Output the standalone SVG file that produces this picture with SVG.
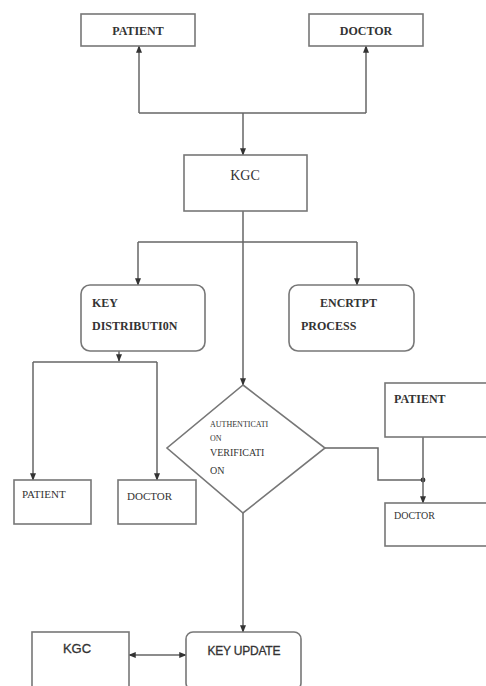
<svg xmlns="http://www.w3.org/2000/svg" width="486" height="686" viewBox="0 0 486 686">
<defs>
<marker id="ah" viewBox="0 0 10 10" refX="9" refY="5" markerWidth="5" markerHeight="5" orient="auto-start-reverse">
<path d="M0,1 L10,5 L0,9 z" fill="#333"/>
</marker>
<marker id="dot" viewBox="0 0 10 10" refX="5" refY="5" markerWidth="4" markerHeight="4">
<circle cx="5" cy="5" r="4" fill="#333"/>
</marker>
</defs>
<style>
.box{fill:#fff;stroke:#777;stroke-width:1.6}
.ln{fill:none;stroke:#666;stroke-width:1.5}
.t{font-family:"Liberation Serif",serif;fill:#333}
.b{font-weight:bold;font-size:12px}
.s{font-size:11px}
.xs{font-size:8px}
.k{font-size:14px}
.sans{font-family:"Liberation Sans",sans-serif;fill:#333;font-size:12px;stroke:#333;stroke-width:0.3}
</style>
<rect width="486" height="686" fill="#fff"/>
<g id="connectors">
<path class="ln" d="M243,211 V242" />
<path class="ln" d="M139,113 V46" marker-end="url(#ah)"/>
<path class="ln" d="M366,113 V46" marker-end="url(#ah)"/>
<path class="ln" d="M139,113 H366"/>
<path class="ln" d="M243,113 V155" marker-end="url(#ah)"/>
<path class="ln" d="M138,242 H357"/>
<path class="ln" d="M138,242 V285" marker-end="url(#ah)"/>
<path class="ln" d="M357,242 V285" marker-end="url(#ah)"/>
<path class="ln" d="M243,242 V385" marker-end="url(#ah)"/>
<path class="ln" d="M119,351 V361" marker-end="url(#ah)"/>
<path class="ln" d="M33,362 H157"/>
<path class="ln" d="M33,362 V480" marker-end="url(#ah)"/>
<path class="ln" d="M157,362 V480" marker-end="url(#ah)"/>
<path class="ln" d="M325,448 H378 V480 H423" marker-end="url(#dot)"/>
<path class="ln" d="M423,437 V503" marker-end="url(#ah)"/>
<path class="ln" d="M243,513 V632" marker-end="url(#ah)"/>
<path class="ln" d="M129,655 H186" marker-start="url(#ah)" marker-end="url(#ah)"/>
</g>
<g id="patient-top"><rect class="box" x="81" y="14" width="114" height="32"/><text class="t b" x="138" y="35" text-anchor="middle">PATIENT</text></g>
<g id="doctor-top"><rect class="box" x="309" y="14" width="114" height="32"/><text class="t b" x="366" y="35" text-anchor="middle">DOCTOR</text></g>
<g id="kgc"><rect class="box" x="184" y="155" width="123" height="56"/><text class="t k" x="245" y="180" text-anchor="middle">KGC</text></g>
<g id="key-distribution"><rect class="box" x="81" y="285" width="124" height="66" rx="9"/><text class="t b" x="92" y="307">KEY</text><text class="t b" x="92" y="330">DISTRIBUTI0N</text></g>
<g id="encrypt-process"><rect class="box" x="289" y="285" width="125" height="66" rx="9"/><text class="t b" x="320" y="307">ENCRTPT</text><text class="t b" x="301" y="330">PROCESS</text></g>
<g id="auth-verification"><path class="box" d="M243,385 L325,448 L243,513 L167,448 Z"/><text class="t xs" x="210" y="427">AUTHENTICATI</text><text class="t xs" x="210" y="441">ON</text><text class="t s" x="210" y="456" style="font-size:10px">VERIFICATI</text><text class="t s" x="210" y="474" style="font-size:10px">ON</text></g>
<g id="patient-left"><rect class="box" x="14" y="480" width="77" height="44"/><text class="t s" x="22" y="498">PATIENT</text></g>
<g id="doctor-left"><rect class="box" x="118" y="480" width="78" height="44"/><text class="t s" x="127" y="500">DOCTOR</text></g>
<g id="patient-right"><rect class="box" x="385" y="383" width="104" height="54"/><text class="t b" x="394" y="403">PATIENT</text></g>
<g id="doctor-right"><rect class="box" x="385" y="503" width="104" height="43"/><text class="t s" x="394" y="519" style="font-size:10px">DOCTOR</text></g>
<g id="kgc-bottom"><rect class="box" x="32" y="632" width="97" height="58"/><text class="sans" x="77" y="653" text-anchor="middle" style="font-size:13px">KGC</text></g>
<g id="key-update"><rect class="box" x="186" y="632" width="115" height="58" rx="7"/><text class="sans" x="244" y="655" text-anchor="middle" textLength="73">KEY UPDATE</text></g>
</svg>
